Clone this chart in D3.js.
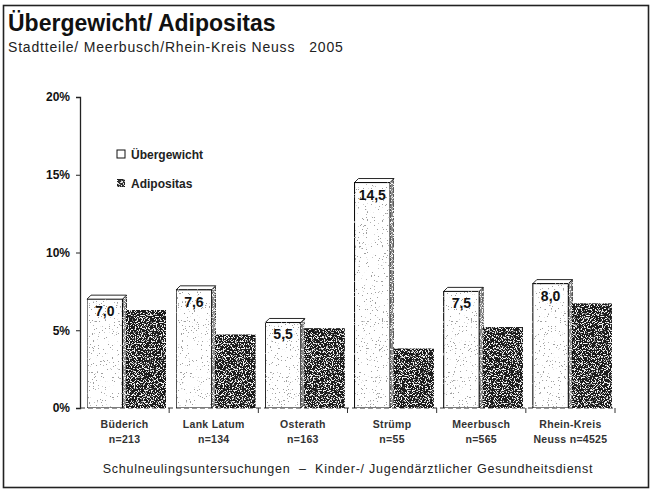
<!DOCTYPE html>
<html><head><meta charset="utf-8">
<script src="https://cdn.jsdelivr.net/npm/d3@7"></script>
<style>
html,body{margin:0;padding:0;background:#fff;}
svg{display:block;font-family:"Liberation Sans",Arial,sans-serif;}
</style></head>
<body>
<svg id="chart" width="659" height="490"></svg>
<script>
// ---- data ----
const categories = ["Büderich", "Lank Latum", "Osterath", "Strümp", "Meerbusch", "Rhein-Kreis Neuss"];
const labelLine1 = ["Büderich", "Lank Latum", "Osterath", "Strümp", "Meerbusch", "Rhein-Kreis"];
const labelLine2 = ["n=213", "n=134", "n=163", "n=55", "n=565", "Neuss n=4525"];
const seriesNames = ["Übergewicht", "Adipositas"];
const uebergewicht = [7.0, 7.6, 5.5, 14.5, 7.5, 8.0];
const adipositas = [6.3, 4.7, 5.1, 3.8, 5.2, 6.7];
const yTicks = [0, 5, 10, 15, 20];
const title = "Übergewicht/ Adipositas";
const subtitle = "Stadtteile/ Meerbusch/Rhein-Kreis Neuss   2005";
const footer = "Schulneulingsuntersuchungen  –  Kinder-/ Jugendärztlicher Gesundheitsdienst";

const svg = d3.select("#chart");
const defs = svg.append("defs");

// textures (scan-like stipple)
const fLight = defs.append("filter").attr("id","lightTex").attr("x",0).attr("y",0).attr("width",1).attr("height",1);
fLight.append("feTurbulence").attr("type","fractalNoise").attr("baseFrequency",0.75).attr("numOctaves",2).attr("seed",4).attr("result","n");
fLight.append("feColorMatrix").attr("in","n").attr("type","matrix")
  .attr("values","0 0 0 0 0.35  0 0 0 0 0.35  0 0 0 0 0.35  -28 0 0 0 8.9").attr("result","dots");
fLight.append("feComposite").attr("in","dots").attr("in2","SourceGraphic").attr("operator","in").attr("result","cl");
const mL = fLight.append("feMerge"); mL.append("feMergeNode").attr("in","SourceGraphic"); mL.append("feMergeNode").attr("in","cl");

const fDark = defs.append("filter").attr("id","darkTex").attr("x",0).attr("y",0).attr("width",1).attr("height",1);
fDark.append("feTurbulence").attr("type","fractalNoise").attr("baseFrequency",0.85).attr("numOctaves",2).attr("seed",7).attr("result","n");
fDark.append("feColorMatrix").attr("in","n").attr("type","matrix")
  .attr("values","0 0 0 0 0.9  0 0 0 0 0.9  0 0 0 0 0.9  14 0 0 0 -7.5").attr("result","dots");
fDark.append("feComposite").attr("in","dots").attr("in2","SourceGraphic").attr("operator","in").attr("result","cl");
const mD = fDark.append("feMerge"); mD.append("feMergeNode").attr("in","SourceGraphic"); mD.append("feMergeNode").attr("in","cl");

// frame
svg.append("rect").attr("x",3.5).attr("y",5.5).attr("width",645).attr("height",482)
  .attr("fill","none").attr("stroke","#222").attr("stroke-width",1.6);

// titles
svg.append("text").attr("x",8).attr("y",31).attr("font-size",23).attr("font-weight","bold").attr("fill","#111").text(title);
svg.append("text").attr("x",8).attr("y",52).attr("font-size",14).attr("letter-spacing",0.8).attr("fill","#222")
  .attr("xml:space","preserve").style("white-space","pre").text(subtitle);

// scales
const x0 = d3.scaleBand().domain(categories).range([80, 615]).paddingInner(0).paddingOuter(0);
const x1 = d3.scaleBand().domain(seriesNames).range([7, 86]).padding(0);
const y = d3.scaleLinear().domain([0, 20]).range([408, 97]);
const depth = 4;

// y axis
const yAxis = d3.axisLeft(y).tickValues(yTicks).tickSize(4).tickFormat(d => d + "%");
const gy = svg.append("g").attr("transform","translate(80,0)").call(yAxis);
gy.select(".domain").attr("stroke","#222").attr("stroke-width",1.3);
gy.selectAll(".tick line").attr("stroke","#222");
gy.selectAll(".tick text").attr("font-size",12).attr("font-weight","bold").attr("fill","#111")
  .attr("font-family","'Liberation Sans',Arial,sans-serif").attr("x",-10);

// baseline (dashed floor) and category ticks
svg.append("line").attr("x1",80).attr("x2",616).attr("y1",y(0)).attr("y2",y(0))
  .attr("stroke","#333").attr("stroke-width",1).attr("stroke-dasharray","5,3");
svg.selectAll(".ctick").data(categories).enter().append("line")
  .attr("x1",d => x0(d) + x0.bandwidth()).attr("x2",d => x0(d) + x0.bandwidth())
  .attr("y1",y(0)).attr("y2",y(0)+5).attr("stroke","#333");

const data = categories.map((c,i) => ({c, u: uebergewicht[i], a: adipositas[i], l1: labelLine1[i], l2: labelLine2[i]}));
const groups = svg.selectAll(".grp").data(data).enter().append("g").attr("class","grp")
  .attr("transform", d => `translate(${x0(d.c)},0)`);

const uw = x1.bandwidth() - depth;
// Übergewicht: side face
groups.append("path")
  .attr("d", d => { const xs = x1("Übergewicht") + uw, t = y(d.u), b = y(0);
    return `M${xs},${t} L${xs+depth},${t-depth} L${xs+depth},${b-depth} L${xs},${b} Z`; })
  .attr("fill","#8a8a8a").attr("stroke","#111").attr("stroke-width",0.8).attr("filter","url(#darkTex)");
// top face
groups.append("path")
  .attr("d", d => { const xl = x1("Übergewicht"), t = y(d.u);
    return `M${xl},${t} L${xl+depth},${t-depth} L${xl+uw+depth},${t-depth} L${xl+uw},${t} Z`; })
  .attr("fill","#fff").attr("stroke","#111").attr("stroke-width",0.9);
// front face
groups.append("rect")
  .attr("x", x1("Übergewicht")).attr("width", uw)
  .attr("y", d => y(d.u)).attr("height", d => y(0) - y(d.u))
  .attr("fill","#fff").attr("stroke","#111").attr("stroke-width",1.1).attr("filter","url(#lightTex)");
// Adipositas
groups.append("rect")
  .attr("x", x1("Adipositas")).attr("width", x1.bandwidth())
  .attr("y", d => y(d.a)).attr("height", d => y(0) - y(d.a))
  .attr("fill","#1e1e1e").attr("stroke","#111").attr("stroke-width",0.8).attr("filter","url(#darkTex)");

// value labels
groups.append("text")
  .attr("x", x1("Übergewicht") + uw/2).attr("y", d => y(d.u) + 17)
  .attr("text-anchor","middle").attr("font-size",14).attr("font-weight","bold").attr("fill","#111")
  .text(d => d3.format(".1f")(d.u).replace(".", ","));

// category labels
groups.append("text").attr("x", x0.bandwidth()/2).attr("y", 428)
  .attr("text-anchor","middle").attr("font-size",10.5).attr("letter-spacing",0.3).attr("font-weight","bold").attr("fill","#333").text(d => d.l1);
groups.append("text").attr("x", x0.bandwidth()/2).attr("y", 443)
  .attr("text-anchor","middle").attr("font-size",10.5).attr("letter-spacing",0.3).attr("font-weight","bold").attr("fill","#333").text(d => d.l2);

// legend
const legend = svg.append("g").attr("transform","translate(117,150)");
const li = legend.selectAll("g").data(seriesNames).enter().append("g")
  .attr("transform",(d,i) => `translate(0,${i*29})`);
li.append("rect").attr("x",0).attr("y",0).attr("width",8).attr("height",8)
  .attr("fill",(d,i) => i ? "#333" : "#fff").attr("stroke","#111").attr("stroke-width",1)
  .attr("filter",(d,i) => i ? "url(#darkTex)" : null);
li.append("text").attr("x",14).attr("y",8.5).attr("font-size",12).attr("font-weight","bold").attr("fill","#222").text(d => d);

// footer
svg.append("text").attr("x",348).attr("y",473).attr("text-anchor","middle").attr("font-size",12.5).attr("letter-spacing",0.75)
  .attr("fill","#222").attr("xml:space","preserve").style("white-space","pre").text(footer);
</script>
</body></html>
